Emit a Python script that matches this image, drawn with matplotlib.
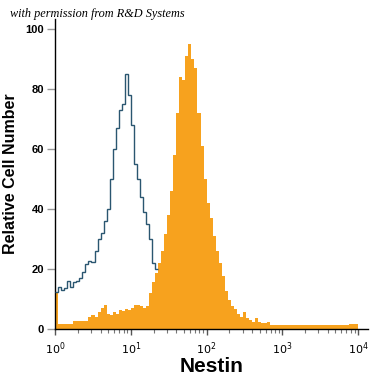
"""
Flow cytometry histogram: Nestin staining vs isotype control
"""
import matplotlib.pyplot as plt
import numpy as np
from matplotlib.ticker import LogLocator, FixedLocator, NullFormatter

# histogram channels, 0.04 decade wide, starting at 10^0
bin_width_dec = 0.04

# isotype control (outline), first 34 channels
control_counts = [12.3, 14, 13, 13.5, 16, 14, 15.5, 16, 17, 19,
                  21.5, 22.5, 22.3, 26, 30, 32, 36, 40, 50, 60,
                  67, 73, 75, 85, 78, 68, 55, 50, 44, 39,
                  35, 30, 22, 20]

# Nestin stained cells (filled), 100 channels up to 10^4
nestin_counts = [12, 1.7, 1.7, 1.7, 1.7, 1.7, 2.7, 2.7, 2.7, 2.7,
                 2.7, 4, 4.5, 4, 5.5, 7, 8, 5, 4.7, 5.5,
                 5, 6.3, 6, 6.5, 6.3, 7, 8, 8, 7.5, 7,
                 7.5, 12, 15.5, 18.5, 22, 26, 31.5, 38, 46, 58,
                 72, 84, 83, 91, 95, 90, 87, 72, 61, 50,
                 42, 37, 31, 26, 22, 17.5, 12.5, 9.5, 7.5, 6.5,
                 5, 4, 5.5, 3.5, 3, 2.3, 3.7, 2.3, 2, 2,
                 2.3, 1.3, 1.3, 1.3, 1.3, 1.3, 1.3, 1.3, 1.3, 1.3,
                 1.3, 1.3, 1.3, 1.3, 1.3, 1.3, 1.3, 1.3, 1.3, 1.3,
                 1.3, 1.3, 1.3, 1.3, 1.3, 1.3, 1.3, 1.5, 1.7, 1.7]

y_ticks = [0, 20, 40, 60, 80, 100]
x_ticks = [1, 10, 100, 1000, 10000]

nestin_edges = 10 ** (np.arange(len(nestin_counts) + 1) * bin_width_dec)
control_edges = 10 ** (np.arange(len(control_counts) + 1) * bin_width_dec)

fig = plt.figure(figsize=(3.75, 3.75), dpi=100)
ax = fig.add_axes([0.147, 0.123, 0.834, 0.826])

ax.stairs(nestin_counts, nestin_edges, fill=True, color='#f7a21e',
          linewidth=0, zorder=2)
ax.stairs(control_counts, control_edges, baseline=None, color='#2a5670',
          linewidth=1.0, zorder=3)

ax.set_xscale('log')
ax.set_xlim(1, 10 ** 4.13)
ax.set_ylim(0, 103.3)

ax.spines['top'].set_visible(False)
ax.spines['right'].set_visible(False)
for side in ['left', 'bottom']:
    ax.spines[side].set_color('black')
    ax.spines[side].set_linewidth(1.0)

ax.set_yticks(y_ticks)
ax.set_yticklabels([str(v) for v in y_ticks], fontweight='bold',
                   fontsize=8, family='Liberation Sans')
ax.tick_params(axis='y', direction='out', length=6, width=1, color='#999999',
               pad=2)

ax.xaxis.set_major_locator(FixedLocator(x_ticks))
ax.xaxis.set_minor_locator(LogLocator(base=10, subs=np.arange(2, 10)))
ax.xaxis.set_minor_formatter(NullFormatter())
ax.set_xticklabels([r'$10^{%d}$' % i for i in range(len(x_ticks))],
                   fontsize=8)
ax.tick_params(axis='x', which='major', direction='out', length=4, width=1,
               color='#555555', pad=4)
ax.tick_params(axis='x', which='minor', direction='out', length=3, width=0.8,
               color='#777777')

ax.set_xlabel('Nestin', fontsize=15, fontweight='bold',
              family='Liberation Sans', labelpad=0)
ax.set_ylabel('Relative Cell Number', fontsize=11.5, fontweight='bold',
              family='Liberation Sans', labelpad=5)

fig.text(0.027, 0.948, 'with permission from R&D Systems', fontsize=8.8,
         style='italic', family='Liberation Serif', ha='left', va='bottom')

plt.savefig('out.png', dpi=100)
plt.close()
